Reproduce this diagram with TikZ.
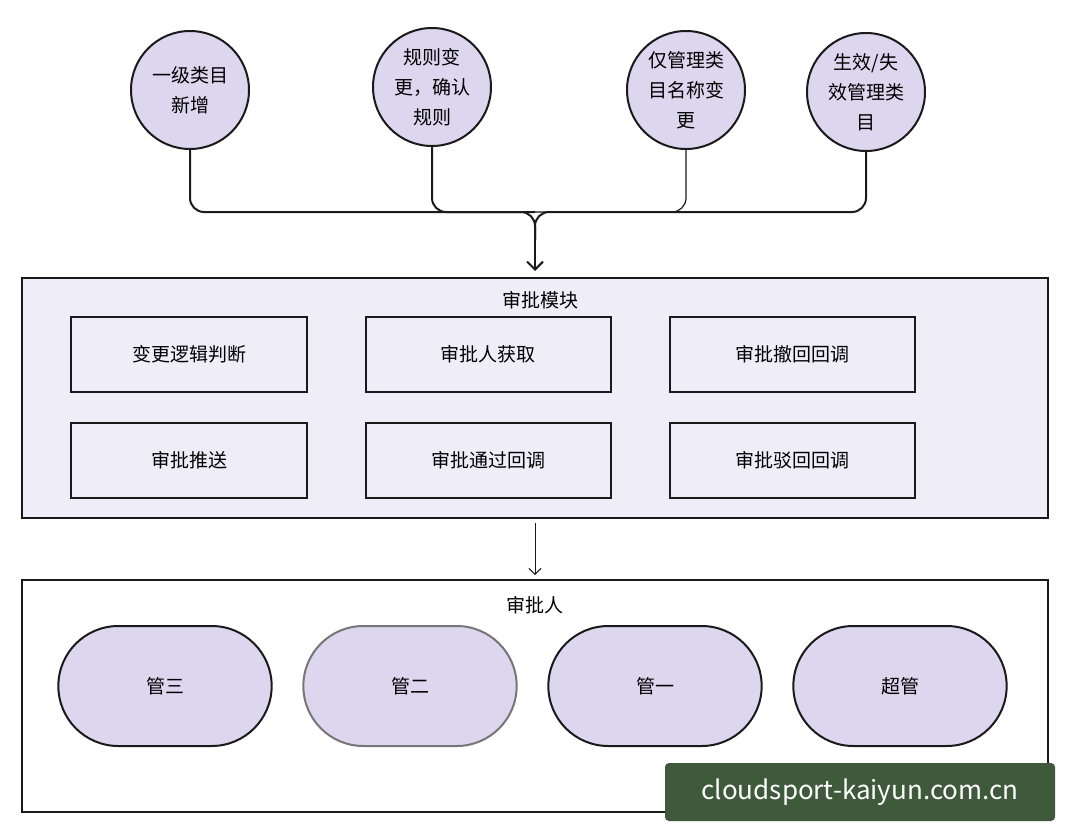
\documentclass[tikz,border=0pt]{standalone}
\usepackage{fontspec}
\setmainfont{Noto Sans CJK SC}
\usetikzlibrary{shapes.misc,arrows.meta}
\definecolor{lav}{HTML}{DCD6EE}
\definecolor{pale}{HTML}{EEEDF8}
\definecolor{ink}{HTML}{1A1A1A}
\definecolor{wm}{HTML}{3E5A3A}
\begin{document}
\begin{tikzpicture}[x=1pt,y=-1pt,
  circ/.style={circle,draw=ink,line width=2pt,fill=lav,minimum size=118pt,inner sep=0pt,align=center,font=\fontsize{19}{30}\selectfont},
  box/.style={draw=ink,line width=2pt,fill=pale,minimum width=236pt,minimum height=75pt,font=\fontsize{19}{24}\selectfont},
  pill/.style={rounded rectangle,draw=ink,line width=2pt,fill=lav,minimum width=220pt,minimum height=120pt,font=\fontsize{19}{24}\selectfont},
  frame/.style={draw=ink,line width=2pt},
  wire/.style={draw=ink,line width=2pt,rounded corners=14pt}]
\useasboundingbox[fill=white] (0,0) rectangle (1071,830);
\node[circ] (c1) at (190,90) {一级类目\\新增};
\node[circ] (c2) at (432,87) {规则变\\更，确认\\规则};
\node[circ] (c3) at (686,90) {仅管理类\\目名称变\\更};
\node[circ] (c4) at (866,92) {生效/失\\效管理类\\目};
\draw[frame,fill=pale] (22,278) rectangle (1048,518);
\node[font=\fontsize{19}{24}\selectfont] (t1) at (540,300) {审批模块};
\coordinate (m) at (535,212);
\coordinate (in) at (535,271);
\draw[wire] (c1.south) -- (190,212) -- (m) -- (535,240);
\draw[wire] (c2.south) -- (432,212) -- (m);
\draw[wire,line width=1.2pt] (c3.south) -- (686,212) -- (m);
\draw[wire] (c4.south) -- (866,212) -- (m) -- (535,240);
\draw[ink,line width=2pt,-{Straight Barb[length=8pt,width=16pt]}] (535,238) -- (in);
\node[box] (b1) at (189,354) {变更逻辑判断};
\node[box,minimum width=245pt] (b2) at (488,354) {审批人获取};
\node[box,minimum width=245pt] (b3) at (792,354) {审批撤回回调};
\node[box] (b4) at (189,460) {审批推送};
\node[box,minimum width=245pt] (b5) at (488,460) {审批通过回调};
\node[box,minimum width=245pt] (b6) at (792,460) {审批驳回回调};
\draw[frame] (22,580) rectangle (1048,812);
\node[font=\fontsize{19}{24}\selectfont] (t2) at (535,605) {审批人};
\coordinate (a1) at (535,523);
\coordinate (a2) at (535,575);
\draw[ink,line width=1pt,-{Straight Barb[length=6pt,width=12pt]}] (a1) -- (a2);
\node[pill] (p1) at (165,686) {管三};
\node[pill,draw=ink!60] (p2) at (410,686) {管二};
\node[pill] (p3) at (655,686) {管一};
\node[pill] (p4) at (900,686) {超管};
\node[fill=wm,rounded corners=4pt,minimum width=390pt,minimum height=58pt,text=white,font=\fontsize{26}{30}\selectfont] (w) at (860,792) {cloudsport-kaiyun.com.cn};
\end{tikzpicture}
\end{document}
